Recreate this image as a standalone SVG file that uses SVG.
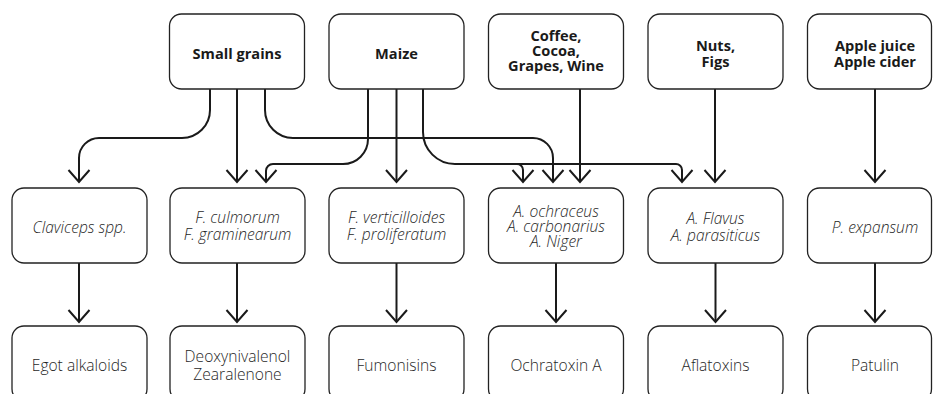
<svg xmlns="http://www.w3.org/2000/svg" width="933" height="394" viewBox="0 0 933 394">
  <style>
    .box { fill: #ffffff; stroke: #222222; stroke-width: 1.3; }
    .src { font-family: "Open Sans", "Liberation Sans", sans-serif; font-weight: 700; font-size: 14.6px; fill: #1a1a1a; text-anchor: middle; }
    .org { font-family: "Open Sans", "Liberation Sans", sans-serif; font-weight: 300; font-style: italic; font-size: 15.6px; fill: #1f1f1f; text-anchor: middle; }
    .tox { font-family: "Open Sans", "Liberation Sans", sans-serif; font-weight: 300; font-size: 15.6px; fill: #1f1f1f; text-anchor: middle; }
    .link { fill: none; stroke: #1a1a1a; stroke-width: 2; marker-end: url(#arrow); }
  </style>
  <defs>
    <marker id="arrow" markerUnits="userSpaceOnUse" orient="auto" refX="0" refY="0" markerWidth="30" markerHeight="30" overflow="visible">
      <path d="M -12 -10.5 L 0 0 L -12 10.5" fill="none" stroke="#1a1a1a" stroke-width="2"/>
    </marker>
  </defs>

  <rect width="933" height="394" fill="#ffffff"/>

  <!-- connectors -->
  <g id="connectors">
    <!-- Small grains -->
    <path class="link" d="M 210 89 V 110 A 28 28 0 0 1 182 138 H 99 A 20 20 0 0 0 79 158 V 182"/>
    <path class="link" d="M 237 89 V 182"/>
    <path class="link" d="M 265 89 V 110 A 28 28 0 0 0 293 138 H 533 A 20 20 0 0 1 553 158 V 182"/>
    <!-- Maize -->
    <path class="link" d="M 368 89 V 139 A 25 25 0 0 1 343 164 H 273 A 7 7 0 0 0 266 171 V 182"/>
    <path class="link" d="M 396.5 89 V 182"/>
    <path class="link" d="M 423 89 V 132 A 32 32 0 0 0 455 164 H 676 A 6 6 0 0 1 682 170 V 182"/>
    <path class="link" d="M 510 164 H 517 A 6 6 0 0 1 523 170 V 182"/>
    <!-- Coffee / Nuts / Apple -->
    <path class="link" d="M 580 89 V 182"/>
    <path class="link" d="M 715 89 V 182"/>
    <path class="link" d="M 875 89 V 182"/>
    <!-- fungi to toxins -->
    <path class="link" d="M 79 263 V 322"/>
    <path class="link" d="M 237 263 V 322"/>
    <path class="link" d="M 396.5 263 V 322"/>
    <path class="link" d="M 556 263 V 322"/>
    <path class="link" d="M 715.5 263 V 322"/>
    <path class="link" d="M 875 263 V 322"/>
  </g>

  <!-- food sources -->
  <g id="small-grains">
    <rect class="box" x="169.5" y="14" width="135" height="75" rx="12"/>
    <text class="src" x="237" y="59">Small grains</text>
  </g>
  <g id="maize">
    <rect class="box" x="329" y="14" width="135" height="75" rx="12"/>
    <text class="src" x="396.5" y="59">Maize</text>
  </g>
  <g id="coffee">
    <rect class="box" x="488.5" y="14" width="135" height="75" rx="12"/>
    <text class="src" x="556" y="41">Coffee,</text>
    <text class="src" x="556" y="56">Cocoa,</text>
    <text class="src" x="556" y="71">Grapes, Wine</text>
  </g>
  <g id="nuts">
    <rect class="box" x="648" y="14" width="135" height="75" rx="12"/>
    <text class="src" x="715.5" y="50.5">Nuts,</text>
    <text class="src" x="715.5" y="67">Figs</text>
  </g>
  <g id="apple">
    <rect class="box" x="807.5" y="14" width="124" height="75" rx="12"/>
    <text class="src" x="875" y="50.5">Apple juice</text>
    <text class="src" x="875" y="67">Apple cider</text>
  </g>

  <!-- fungi -->
  <g id="claviceps">
    <rect class="box" x="12" y="188" width="135" height="75" rx="12"/>
    <text class="org" x="79.5" y="233">Claviceps spp.</text>
  </g>
  <g id="fusarium-culmorum">
    <rect class="box" x="170" y="188" width="135" height="75" rx="12"/>
    <text class="org" x="237.5" y="223">F. culmorum</text>
    <text class="org" x="237.5" y="240">F. graminearum</text>
  </g>
  <g id="fusarium-verticilloides">
    <rect class="box" x="329" y="188" width="135" height="75" rx="12"/>
    <text class="org" x="396.5" y="223">F. verticilloides</text>
    <text class="org" x="396.5" y="240">F. proliferatum</text>
  </g>
  <g id="aspergillus-ochraceus">
    <rect class="box" x="488.5" y="188" width="135" height="75" rx="12"/>
    <text class="org" x="556" y="216.5">A. ochraceus</text>
    <text class="org" x="556" y="231.5">A. carbonarius</text>
    <text class="org" x="556" y="246.5">A. Niger</text>
  </g>
  <g id="aspergillus-flavus">
    <rect class="box" x="648" y="188" width="135" height="75" rx="12"/>
    <text class="org" x="715.5" y="223.5">A. Flavus</text>
    <text class="org" x="715.5" y="240.5">A. parasiticus</text>
  </g>
  <g id="penicillium">
    <rect class="box" x="807.5" y="188" width="124" height="75" rx="12"/>
    <text class="org" x="875" y="233">P. expansum</text>
  </g>

  <!-- mycotoxins -->
  <g id="ergot-alkaloids">
    <rect class="box" x="12" y="326" width="135" height="75" rx="12"/>
    <text class="tox" x="79.5" y="371">Egot alkaloids</text>
  </g>
  <g id="deoxynivalenol">
    <rect class="box" x="170" y="326" width="135" height="75" rx="12"/>
    <text class="tox" x="237.5" y="362">Deoxynivalenol</text>
    <text class="tox" x="237.5" y="379.5">Zearalenone</text>
  </g>
  <g id="fumonisins">
    <rect class="box" x="329" y="326" width="135" height="75" rx="12"/>
    <text class="tox" x="396.5" y="371">Fumonisins</text>
  </g>
  <g id="ochratoxin">
    <rect class="box" x="488.5" y="326" width="135" height="75" rx="12"/>
    <text class="tox" x="556" y="371">Ochratoxin A</text>
  </g>
  <g id="aflatoxins">
    <rect class="box" x="648" y="326" width="135" height="75" rx="12"/>
    <text class="tox" x="715.5" y="371">Aflatoxins</text>
  </g>
  <g id="patulin">
    <rect class="box" x="807.5" y="326" width="124" height="75" rx="12"/>
    <text class="tox" x="875" y="371">Patulin</text>
  </g>
</svg>
